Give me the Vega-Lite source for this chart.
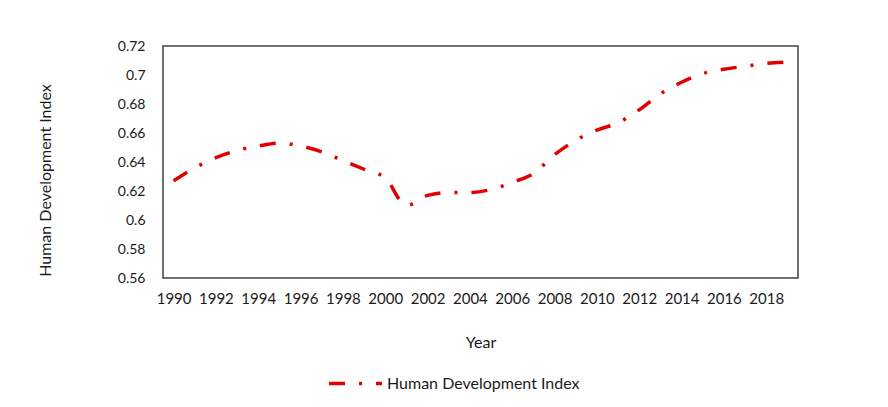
{
  "$schema": "https://vega.github.io/schema/vega-lite/v6.json",
  "width": 635,
  "height": 232,
  "autosize": "none",
  "padding": {"left": 163, "top": 46, "right": 90, "bottom": 129},
  "background": "white",
  "config": {
    "font": "Lato",
    "view": {"stroke": "#404040", "strokeWidth": 1.5},
    "axis": {"labelFont": "Lato", "titleFont": "Lato", "labelColor": "#1a1a1a", "titleColor": "#1a1a1a", "labelFontSize": 14, "titleFontSize": 16, "titleFontWeight": "normal", "grid": false, "domain": false, "ticks": false},
    "legend": {"labelFont": "Lato", "labelFontSize": 16, "labelColor": "#1a1a1a", "labelLimit": 0}
  },
  "data": {
    "values": [
      {"Year": "1990", "HDI": 0.627, "Series": "Human Development Index"},
      {"Year": "1991", "HDI": 0.636, "Series": "Human Development Index"},
      {"Year": "1992", "HDI": 0.643, "Series": "Human Development Index"},
      {"Year": "1993", "HDI": 0.648, "Series": "Human Development Index"},
      {"Year": "1994", "HDI": 0.651, "Series": "Human Development Index"},
      {"Year": "1995", "HDI": 0.653, "Series": "Human Development Index"},
      {"Year": "1996", "HDI": 0.651, "Series": "Human Development Index"},
      {"Year": "1997", "HDI": 0.647, "Series": "Human Development Index"},
      {"Year": "1998", "HDI": 0.641, "Series": "Human Development Index"},
      {"Year": "1999", "HDI": 0.635, "Series": "Human Development Index"},
      {"Year": "2000", "HDI": 0.629, "Series": "Human Development Index"},
      {"Year": "2001", "HDI": 0.610, "Series": "Human Development Index"},
      {"Year": "2002", "HDI": 0.617, "Series": "Human Development Index"},
      {"Year": "2003", "HDI": 0.619, "Series": "Human Development Index"},
      {"Year": "2004", "HDI": 0.619, "Series": "Human Development Index"},
      {"Year": "2005", "HDI": 0.621, "Series": "Human Development Index"},
      {"Year": "2006", "HDI": 0.626, "Series": "Human Development Index"},
      {"Year": "2007", "HDI": 0.632, "Series": "Human Development Index"},
      {"Year": "2008", "HDI": 0.645, "Series": "Human Development Index"},
      {"Year": "2009", "HDI": 0.655, "Series": "Human Development Index"},
      {"Year": "2010", "HDI": 0.662, "Series": "Human Development Index"},
      {"Year": "2011", "HDI": 0.667, "Series": "Human Development Index"},
      {"Year": "2012", "HDI": 0.676, "Series": "Human Development Index"},
      {"Year": "2013", "HDI": 0.687, "Series": "Human Development Index"},
      {"Year": "2014", "HDI": 0.695, "Series": "Human Development Index"},
      {"Year": "2015", "HDI": 0.701, "Series": "Human Development Index"},
      {"Year": "2016", "HDI": 0.704, "Series": "Human Development Index"},
      {"Year": "2017", "HDI": 0.706, "Series": "Human Development Index"},
      {"Year": "2018", "HDI": 0.708, "Series": "Human Development Index"},
      {"Year": "2019", "HDI": 0.709, "Series": "Human Development Index"}
    ]
  },
  "mark": {"type": "line", "interpolate": "monotone", "strokeWidth": 3.5, "strokeDash": [16, 14, 3, 14]},
  "encoding": {
    "x": {
      "field": "Year", "type": "ordinal", "title": "Year",
      "scale": {"paddingInner": 0, "paddingOuter": 0.5},
      "axis": {"labelAngle": 0, "labelFontSize": 15, "labelPadding": 13, "titlePadding": 28,
        "values": ["1990","1992","1994","1996","1998","2000","2002","2004","2006","2008","2010","2012","2014","2016","2018"]}
    },
    "y": {
      "field": "HDI", "type": "quantitative", "title": "Human Development Index",
      "scale": {"domain": [0.56, 0.72], "zero": false, "nice": false},
      "axis": {"values": [0.56,0.58,0.6,0.62,0.64,0.66,0.68,0.7,0.72], "labelExpr": "replace(format(datum.value, '.2f'), /0$/, '')", "labelPadding": 18, "titleX": -110, "titleY": 134}
    },
    "color": {
      "field": "Series", "type": "nominal", "title": null,
      "scale": {"range": ["#e00000"]},
      "legend": {"orient": "none", "legendX": 164, "legendY": 309, "symbolType": "stroke", "symbolSize": 2800, "symbolStrokeWidth": 3.5, "symbolDash": [16, 14, 3, 14], "symbolOffset": 0, "labelOffset": 3}
    }
  }
}
